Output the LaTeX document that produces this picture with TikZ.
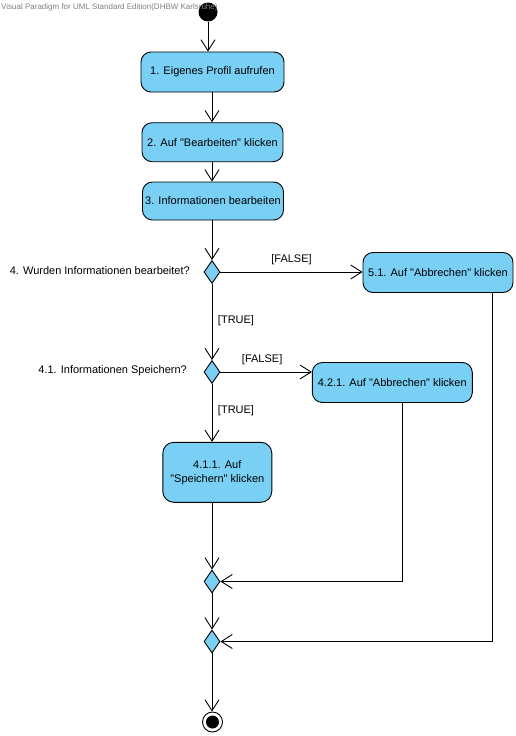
\documentclass[tikz,border=0pt]{standalone}
\usepackage{fontspec}
\setmainfont{Liberation Sans}
\usetikzlibrary{arrows.meta,shapes.geometric}
\definecolor{actfill}{RGB}{122,207,245}
\definecolor{wmark}{RGB}{128,128,128}
\newcommand{\qq}{\textquotedbl}
\begin{document}
\begin{tikzpicture}[x=1pt,y=-1pt,
  every node/.style={font=\fontsize{11}{14}\selectfont, inner sep=0pt},
  action/.style={draw=black, fill=actfill, rounded corners=10pt, line width=0.9pt, align=center},
  decision/.style={draw=black, fill=actfill, diamond, line width=0.9pt, minimum width=16pt, minimum height=23pt, aspect=0.7},
  flow/.style={line width=0.9pt, -{Straight Barb[length=11pt,width=14pt,line width=0.9pt]}},
  guard/.style={font=\fontsize{11}{13}\selectfont}]
  \useasboundingbox[fill=white] (0,0) rectangle (516,736);

  % start node
  \node[circle, fill=black, minimum size=19pt] (init) at (208,12) {};

  % actions
  \node[action, minimum width=143pt, minimum height=40pt] (a1) at (212.5,72) {1. Eigenes Profil aufrufen};
  \node[action, minimum width=141pt, minimum height=39pt] (a2) at (212.5,142.2) {2. Auf \qq Bearbeiten\qq{} klicken};
  \node[action, minimum width=141pt, minimum height=38pt] (a3) at (213,201) {3. Informationen bearbeiten};

  \node[decision] (d1) at (212,272) {};
  \node[anchor=east] (q1) at (190,271) {4. Wurden Informationen bearbeitet?};

  \node[action, minimum width=150pt, minimum height=40pt] (a51) at (438,272.5) {5.1. Auf \qq Abbrechen\qq{} klicken};

  \node[decision] (d2) at (212,372) {};
  \node[anchor=east] (q2) at (187,371) {4.1. Informationen Speichern?};

  \node[action, minimum width=160pt, minimum height=40pt] (a421) at (392.3,382.5) {4.2.1. Auf \qq Abbrechen\qq{} klicken};
  \node[action, minimum width=109pt, minimum height=60pt, rounded corners=11pt] (a411) at (217.3,472.3) {4.1.1. Auf\\\qq Speichern\qq{} klicken};

  \node[decision] (d3) at (212,581.5) {};
  \node[decision] (d4) at (212,641.5) {};

  % end node
  \node[circle, draw=black, fill=white, line width=0.9pt, minimum size=20pt] (fin) at (212.5,722) {};
  \node[circle, fill=black, minimum size=13pt] (finin) at (fin.center) {};

  % control flows
  \draw[flow] (init.south) -- (init.south |- a1.north);
  \draw[flow] (a1.south -| d1.north) -- (a2.north -| d1.north);
  \draw[flow] (a2.south -| d1.north) -- (a3.north -| d1.north);
  \draw[flow] (a3.south -| d1.north) -- (d1.north);

  \draw[flow] (d1.east) -- (d1.east -| a51.west)
    node[guard, midway, above=7pt] (g1) {[FALSE]};
  \draw[flow] (d1.south) -- (d2.north);
  \node[guard] (g2) at (236,321) {[TRUE]};

  \draw[flow] (d2.east) -- (d2.east -| a421.west)
    node[guard, midway, above=7pt, xshift=-4pt] (g3) {[FALSE]};
  \draw[flow] (d2.south) -- (d2.south |- a411.north);
  \node[guard] (g4) at (236,410.5) {[TRUE]};

  \draw[flow] (a411.south -| d3.north) -- (d3.north);
  \coordinate (c421) at ([xshift=10pt]a421.south);
  \draw[flow] (c421) |- (d3.east);
  \draw[flow] (d3.south) -- (d4.north);
  \coordinate (c51) at ([xshift=54.3pt]a51.south);
  \draw[flow] (c51) |- (d4.east);
  \draw[flow] (d4.south) -- (fin.north -| d4.south);

  % tool banner
  \node[anchor=west, text=wmark, font=\fontsize{8}{9}\selectfont] (banner) at (1,7.5) {Visual Paradigm for UML Standard Edition(DHBW Karlsruhe)};
\end{tikzpicture}
\end{document}
